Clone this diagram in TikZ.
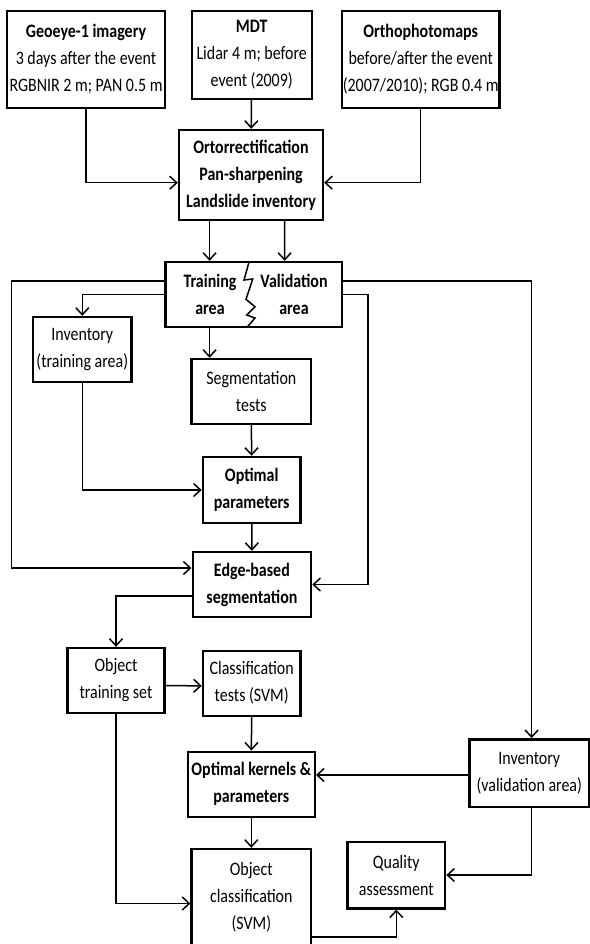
\documentclass[tikz,border=0pt]{standalone}
\usepackage{fontspec}
\setmainfont{Carlito}[FakeStretch=0.84]
\usetikzlibrary{arrows.meta}
\begin{document}
\begin{tikzpicture}[x=1pt,y=-1pt,
    box/.style={draw,line width=2.4pt,inner sep=0pt,align=center,
      font=\fontsize{19}{27}\selectfont},
    boldbox/.style={box,font=\fontsize{19}{27}\selectfont\bfseries},
    txt/.style={inner sep=0pt,align=center,font=\fontsize{19}{27}\selectfont\bfseries},
    arr/.style={line width=1.5pt,-{Straight Barb[length=7pt,width=13pt,line width=1.5pt]}}]
  \useasboundingbox (0,0) rectangle (589,944);
  \node[box,minimum width=158.5,minimum height=97] (geo) at (86,59.5)
    {\textbf{Geoeye-1 imagery}\\3 days after the event\\RGBNIR 2 m; PAN 0.5 m};
  \node[box,minimum width=120,minimum height=88] (mdt) at (251.7,55)
    {\textbf{MDT}\\Lidar 4 m; before\\event (2009)};
  \node[box,minimum width=157.7,minimum height=97] (ortho) at (420.7,59.5)
    {\textbf{Orthophotomaps}\\before/after the event\\(2007/2010); RGB 0.4 m};
  \node[boldbox,minimum width=144,minimum height=90] (prep) at (251,175)
    {Ortorrectification\\Pan-sharpening\\Landslide inventory};
  \node[box,minimum width=176.6,minimum height=65] (area) at (253.6,294.5) {};
  \node[txt] (train) at (210,294.5) {Training\\area};
  \node[txt] (valid) at (294,294.5) {Validation\\area};
  \node[box,minimum width=98.5,minimum height=65] (invtr) at (82.3,349.5)
    {Inventory\\(training area)};
  \node[box,minimum width=119.5,minimum height=65] (segt) at (251.3,391.5)
    {Segmentation\\tests};
  \node[boldbox,minimum width=97.7,minimum height=66] (optp) at (251.7,490)
    {Optimal\\parameters};
  \node[boldbox,minimum width=118.4,minimum height=65] (edge) at (251.9,584.5)
    {Edge-based\\segmentation};
  \node[box,minimum width=97,minimum height=65] (objtr) at (116,680.5)
    {Object\\training set};
  \node[box,minimum width=97.6,minimum height=65] (clst) at (251.7,683.2)
    {Classification\\tests (SVM)};
  \node[boldbox,minimum width=127,minimum height=65] (optk) at (251.3,784.2)
    {Optimal kernels \&\\parameters};
  \node[box,minimum width=119.4,minimum height=67.4] (invval) at (529.3,773)
    {Inventory\\(validation area)};
  \node[box,minimum width=119.5,minimum height=96] (objcls) at (251.3,897)
    {Object\\classification\\(SVM)};
  \node[box,minimum width=97.7,minimum height=66.6] (qual) at (396.3,875)
    {Quality\\assessment};
  \coordinate (lcorner) at (11.3,568);
  \coordinate (rcorner) at (368.2,584.5);
  \draw[line width=1.5pt] (249.3,261) -- (244,280) -- (252.7,279) -- (246,299.3)
    -- (255,306.7) -- (246.7,315) -- (255,318) -- (247.3,327);
  \begin{scope}[arr]
    \draw (geo.south) |- ([yshift=-7.7pt]prep.west);
    \draw (mdt) to (prep);
    \draw (ortho.south) |- ([yshift=-7.7pt]prep.east);
    \draw ([xshift=-41.4pt]prep.south) to ([xshift=-44pt]area.north);
    \draw ([xshift=33.7pt]prep.south) to ([xshift=31pt]area.north);
    \draw ([yshift=13.5pt]area.west) -| (lcorner) to ([yshift=16.5pt]edge.west);
    \draw (area.west) -| (invtr.north);
    \draw ([yshift=13.5pt]area.east) -| ([xshift=2.3pt]invval.north);
    \draw (area.east) -| (rcorner) to (edge.east);
    \draw ([xshift=-44pt]area.south) to ([xshift=-41.7pt]segt.north);
    \draw (segt) to (optp);
    \draw (invtr.south) |- (optp.west);
    \draw (optp) to (edge);
    \draw ([yshift=-11.5pt]edge.west) -| (objtr.north);
    \draw ([yshift=-5pt]objtr.east) to ([yshift=-2.7pt]clst.west);
    \draw (clst) to (optk);
    \draw ([yshift=-2pt]invval.west) to ([yshift=-2pt]invval.west -| optk.east);
    \draw (optk) to (objcls);
    \draw (objtr.south) |- ([yshift=-6.5pt]objcls.west);
    \draw ([xshift=2.3pt]invval.south) |- (qual.east);
    \draw ([yshift=-40pt]objcls.east) -| (qual.south);
  \end{scope}
\end{tikzpicture}
\end{document}
